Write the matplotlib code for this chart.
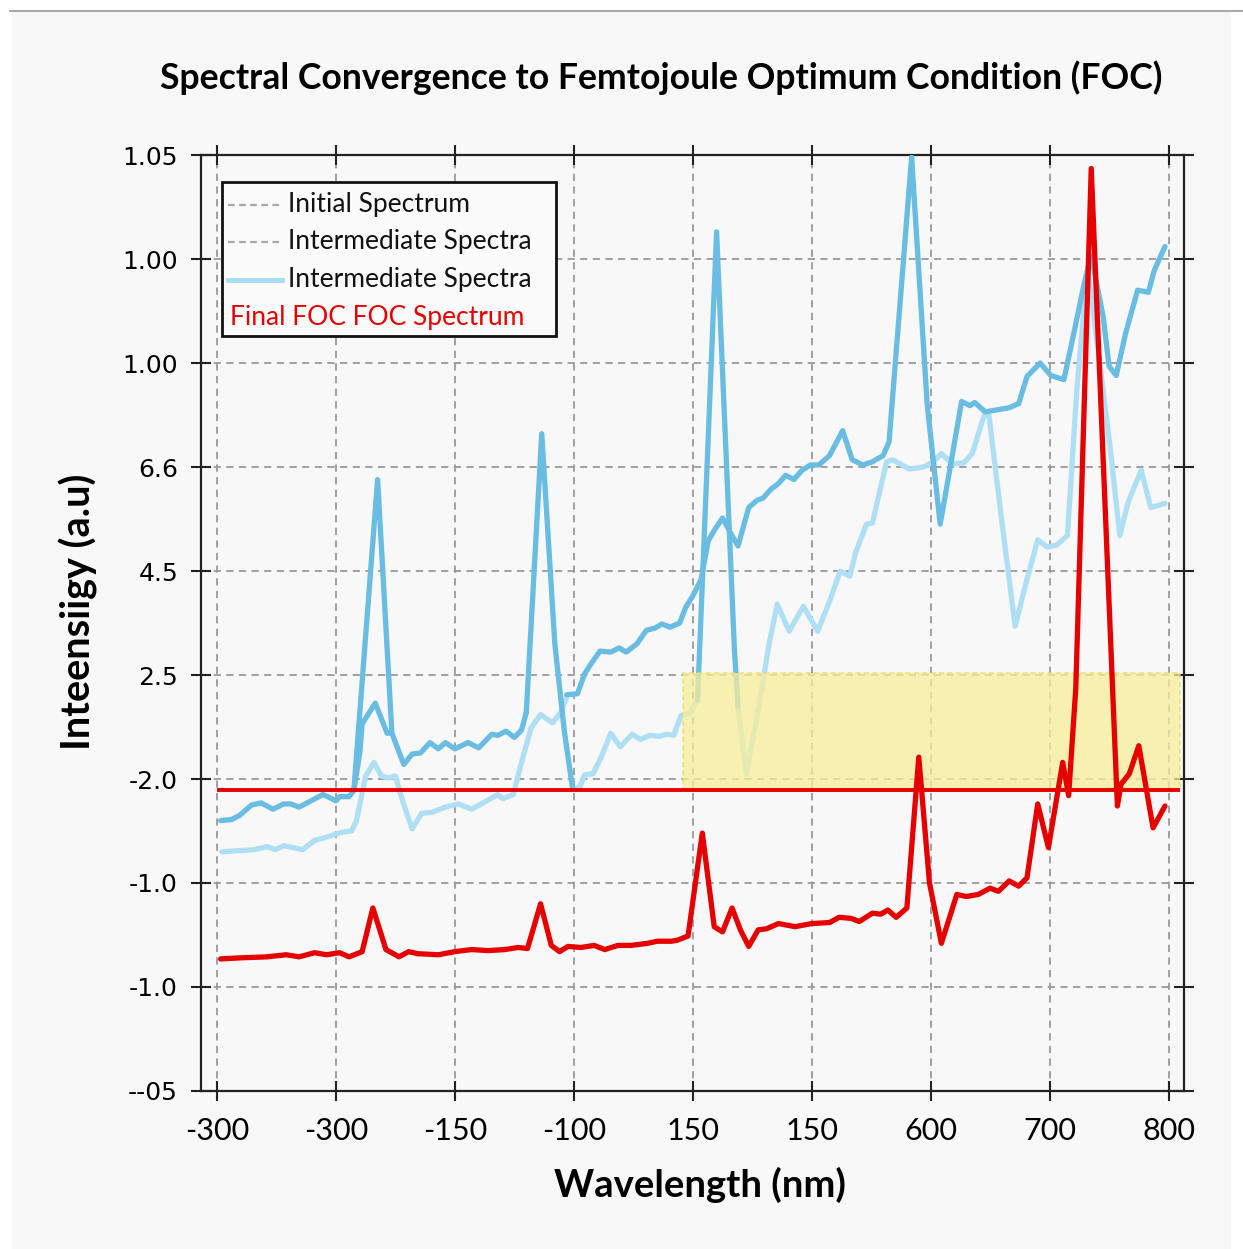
import numpy as np
import matplotlib.pyplot as plt
from matplotlib.patches import Rectangle
from matplotlib.lines import Line2D

# Eixos categóricos: posição 0..8 no eixo x, 0..9 no eixo y
xtick_labels = ['-300', '-300', '-150', '-100', '150', '150', '600', '700', '800']
ytick_labels = ['--05', '-1.0', '-1.0', '-2.0', '2.5', '4.5', '6.6', '1.00', '1.00', '1.05']

# Espectro intermediário (curva superior)
upper_x = [0.03, 0.12, 0.19, 0.29, 0.37, 0.47, 0.56, 0.62, 0.69, 0.79, 0.89, 0.93, 1.00, 1.03,
           1.11, 1.15, 1.20, 1.22, 1.33, 1.43, 1.47, 1.57, 1.64, 1.71, 1.79, 1.86, 1.92, 2.00,
           2.11, 2.20, 2.31, 2.36, 2.43, 2.50, 2.56, 2.60, np.nan, 2.94, 3.03, 3.09, 3.14, 3.22,
           3.31, 3.38, 3.44, 3.53, 3.61, 3.68, 3.74, 3.81, 3.89, 3.94, 4.00, 4.07, 4.13, 4.18,
           4.25, 4.33, 4.38, 4.47, 4.54, 4.59, 4.66, 4.72, 4.78, 4.85, 4.92, 4.99, 5.06, 5.15,
           5.26, 5.34, 5.43, 5.51, 5.60, 5.65, 5.84, 5.97, 6.08, 6.16, 6.26, 6.33, 6.37, 6.46,
           6.56, 6.66, 6.74, 6.81, 6.92, 7.01, 7.12, 7.21, 7.29, 7.35, 7.45, 7.50, 7.56, 7.64,
           7.74, 7.83, 7.88, 7.97]
upper_y = [2.60, 2.61, 2.65, 2.75, 2.77, 2.71, 2.76, 2.76, 2.73, 2.79, 2.85, 2.83, 2.79, 2.83,
           2.83, 2.89, 3.25, 3.53, 3.73, 3.44, 3.44, 3.14, 3.24, 3.25, 3.35, 3.29, 3.35, 3.29,
           3.35, 3.30, 3.43, 3.42, 3.46, 3.40, 3.47, 3.64, np.nan, 3.81, 3.82, 4.01, 4.10, 4.23,
           4.22, 4.26, 4.22, 4.30, 4.43, 4.45, 4.49, 4.46, 4.50, 4.65, 4.76, 4.92, 5.29, 5.39,
           5.51, 5.34, 5.24, 5.61, 5.68, 5.70, 5.79, 5.84, 5.92, 5.88, 5.97, 6.02, 6.02, 6.11,
           6.35, 6.07, 6.02, 6.05, 6.11, 6.24, 8.98, 6.61, 5.45, 5.97, 6.63, 6.59, 6.62, 6.53,
           6.55, 6.57, 6.61, 6.87, 7.00, 6.88, 6.84, 7.32, 7.76, 8.03, 7.45, 6.97, 6.88, 7.29,
           7.70, 7.68, 7.89, 8.12]

# Picos estreitos da mesma série (NaN separa os trechos)
peak_x = [1.15, 1.35, 1.47, np.nan,
          2.60, 2.73, 2.84, 2.92, 2.99, np.nan,
          4.04, 4.20, 4.35, 4.38]
peak_y = [2.89, 5.88, 3.44, np.nan,
          3.64, 6.32, 4.30, 3.46, 2.90, np.nan,
          3.76, 8.26, 4.24, 3.70]

# Espectro intermediário (curva clara)
light_x = [0.04, 0.17, 0.31, 0.42, 0.49, 0.56, 0.64, 0.72, 0.82, 0.89, 0.97, 1.06, 1.13, 1.17,
           1.25, 1.32, 1.38, 1.44, 1.50, 1.56, 1.64, 1.72, 1.81, 1.92, 2.03, 2.14, 2.22, 2.36,
           2.40, 2.49, 2.56, 2.64, 2.72, 2.82, 2.89, 2.94, np.nan,
           2.99, 3.05, 3.09, 3.16, 3.23, 3.31, 3.39, 3.49, 3.56, 3.64, 3.72, 3.78, 3.84, 3.90,
           3.97, 4.04, np.nan,
           4.38, 4.45, 4.55, 4.64, 4.71, 4.81, 4.93, 5.05, 5.15, 5.24, 5.32, 5.37, 5.46, 5.51,
           5.57, 5.63, 5.68, 5.82, 5.94, 6.02, 6.09, 6.18, 6.28, 6.35, 6.45, 6.49, 6.59, 6.71,
           6.81, 6.90, 6.98, 7.06, 7.15, 7.23, 7.32, 7.43, 7.51, 7.59, 7.66, 7.77, 7.85, 7.97]
light_y = [2.30, 2.31, 2.32, 2.35, 2.32, 2.36, 2.34, 2.32, 2.41, 2.43, 2.46, 2.49, 2.50, 2.59,
           3.03, 3.16, 3.03, 3.01, 3.03, 2.79, 2.52, 2.67, 2.68, 2.73, 2.76, 2.71, 2.76, 2.85,
           2.81, 2.85, 3.16, 3.49, 3.62, 3.54, 3.64, 3.79, np.nan,
           2.90, 2.92, 3.04, 3.05, 3.21, 3.44, 3.31, 3.43, 3.38, 3.42, 3.41, 3.43, 3.42, 3.61,
           3.63, 3.76, np.nan,
           3.70, 3.05, 3.66, 4.29, 4.68, 4.42, 4.66, 4.42, 4.71, 5.00, 4.95, 5.18, 5.45, 5.46,
           5.76, 6.05, 6.07, 5.98, 6.00, 6.05, 6.13, 6.03, 6.04, 6.13, 6.50, 6.50, 5.55, 4.47,
           4.92, 5.30, 5.23, 5.25, 5.34, 6.76, 7.92, 6.92, 6.18, 5.34, 5.66, 5.97, 5.61, 5.65]

# Espectro final FOC
final_x = [0.03, 0.19, 0.42, 0.58, 0.69, 0.82, 0.92, 1.03, 1.11, 1.22, 1.31, 1.42, 1.53, 1.61,
           1.69, 1.86, 2.00, 2.14, 2.28, 2.42, 2.53, 2.61, 2.72, 2.81, 2.88, 2.95, 3.06, 3.17,
           3.26, 3.37, 3.48, 3.62, 3.70, 3.82, 3.87, 3.96, 4.08, 4.18, 4.25, 4.33, 4.40, 4.47,
           4.55, 4.62, 4.72, 4.86, 5.00, 5.15, 5.23, 5.33, 5.40, 5.51, 5.58, 5.64, 5.71, 5.80,
           5.90, 5.99, 6.09, 6.22, 6.30, 6.40, 6.50, 6.57, 6.66, 6.74, 6.81, 6.90, 6.99, 7.11,
           7.16, 7.22, 7.35, 7.57, 7.60, 7.67, 7.75, 7.87, 7.97]
final_y = [1.27, 1.28, 1.29, 1.31, 1.29, 1.33, 1.31, 1.33, 1.29, 1.34, 1.76, 1.36, 1.29, 1.34,
           1.32, 1.31, 1.34, 1.36, 1.35, 1.36, 1.38, 1.37, 1.80, 1.40, 1.34, 1.39, 1.38, 1.40,
           1.36, 1.40, 1.40, 1.42, 1.44, 1.44, 1.45, 1.49, 2.48, 1.58, 1.53, 1.76, 1.55, 1.39,
           1.55, 1.56, 1.61, 1.58, 1.61, 1.62, 1.67, 1.66, 1.63, 1.71, 1.70, 1.74, 1.67, 1.76,
           3.21, 2.00, 1.42, 1.89, 1.87, 1.89, 1.95, 1.92, 2.02, 1.97, 2.05, 2.76, 2.34, 3.16,
           2.84, 3.87, 8.87, 2.74, 2.95, 3.05, 3.32, 2.53, 2.74]

# Nível FOC e faixa ótima
foc_level = 2.895
foc_span = (0.0, 8.10)
band_x = (3.92, 8.10)
band_y = (2.89, 4.02)

MID = '#69bce2'
LIGHT = '#afdff5'
RED = '#e60000'
BG = '#f8f8f8'
FONT = ['Lato', 'DejaVu Sans']
LW = 3.8

fig = plt.figure(figsize=(12.43, 12.49), dpi=100, facecolor='white')
# painel de fundo com borda superior
fig.patches.append(Rectangle((12/1243, 0), 1219/1243, 1 - 11/1249, transform=fig.transFigure,
                             facecolor=BG, edgecolor='none', zorder=-10))
fig.lines.append(Line2D([10/1243, 1], [1 - 11/1249, 1 - 11/1249], transform=fig.transFigure,
                        color='#9a9a9a', lw=1.2))

ax = fig.add_axes([201/1243, 158/1249, 983/1243, 936/1249])
ax.set_facecolor(BG)

ax.plot(light_x, light_y, color=LIGHT, lw=LW, solid_capstyle='round',
        solid_joinstyle='round', zorder=3)
ax.plot(upper_x, upper_y, color=MID, lw=LW, solid_capstyle='round',
        solid_joinstyle='round', zorder=4)
ax.plot(peak_x, peak_y, color=MID, lw=LW, solid_capstyle='round',
        solid_joinstyle='round', zorder=4)

ax.add_patch(Rectangle((band_x[0], band_y[0]), band_x[1] - band_x[0], band_y[1] - band_y[0],
                       facecolor='#f8ee9a', alpha=0.75, edgecolor='#eedc5a', lw=1.2,
                       ls=(0, (3, 2)), zorder=5))

ax.hlines(foc_level, foc_span[0], foc_span[1], color=RED, lw=2.8, zorder=6)
ax.plot(final_x, final_y, color=RED, lw=LW, solid_capstyle='round',
        solid_joinstyle='round', zorder=7)

ax.set_xlim(-0.135, 8.13)
ax.set_ylim(0, 9)
ax.set_xticks(range(len(xtick_labels)))
ax.set_xticklabels(xtick_labels, family=FONT, fontsize=22)
ax.set_yticks(range(len(ytick_labels)))
ax.set_yticklabels(ytick_labels, family='DejaVu Sans', fontsize=18)
ax.tick_params(axis='both', direction='inout', length=15, width=1.5, color='#222222',
               top=True, right=True)
ax.tick_params(axis='x', pad=11)
ax.tick_params(axis='y', pad=9)
ax.grid(True, color='#999999', lw=1.3, ls=(0, (4, 3)), zorder=1)
ax.set_axisbelow(True)
for s in ax.spines.values():
    s.set_linewidth(1.6)
    s.set_color('#222222')

# Legenda montada à mão
ax.add_patch(Rectangle((0.0214, 0.8066), 0.3397, 0.1644, transform=ax.transAxes,
                       facecolor='#fbfbfb', edgecolor='#111111', lw=2, zorder=10))
rows = [0.9466, 0.9071, 0.8665]
handles = [dict(color='#a8a8a8', lw=1.6, ls=(0, (3, 2))),
           dict(color='#a8a8a8', lw=1.6, ls=(0, (3, 2))),
           dict(color='#aadcf3', lw=3.5, ls='-')]
names = ['Initial Spectrum', 'Intermediate Spectra', 'Intermediate Spectra']
for yy, h, name in zip(rows, handles, names):
    ax.add_line(Line2D([0.0275, 0.0824], [yy, yy], transform=ax.transAxes, zorder=11, **h))
    ax.text(0.0885, yy, name, transform=ax.transAxes, fontsize=19, family=FONT,
            va='center', ha='left', color='#111111', zorder=11)
ax.text(0.0295, 0.8269, 'Final FOC FOC Spectrum', transform=ax.transAxes, fontsize=19,
        family=FONT, va='center', ha='left', color=RED, zorder=11)

fig.text(0.532, 0.9375, 'Spectral Convergence to Femtojoule Optimum Condition (FOC)',
         fontsize=25.6, fontweight='bold', family=FONT, ha='center', va='center')
fig.text(0.563, 0.0512, 'Wavelength (nm)', fontsize=27.5, fontweight='bold', family=FONT,
         ha='center', va='center')
fig.text(0.063, 0.51, 'Inteensiigy (a.u)', fontsize=28.5, fontweight='bold', family=FONT,
         ha='center', va='center', rotation=90)

fig.savefig('out.png', dpi=100, facecolor=fig.get_facecolor())
